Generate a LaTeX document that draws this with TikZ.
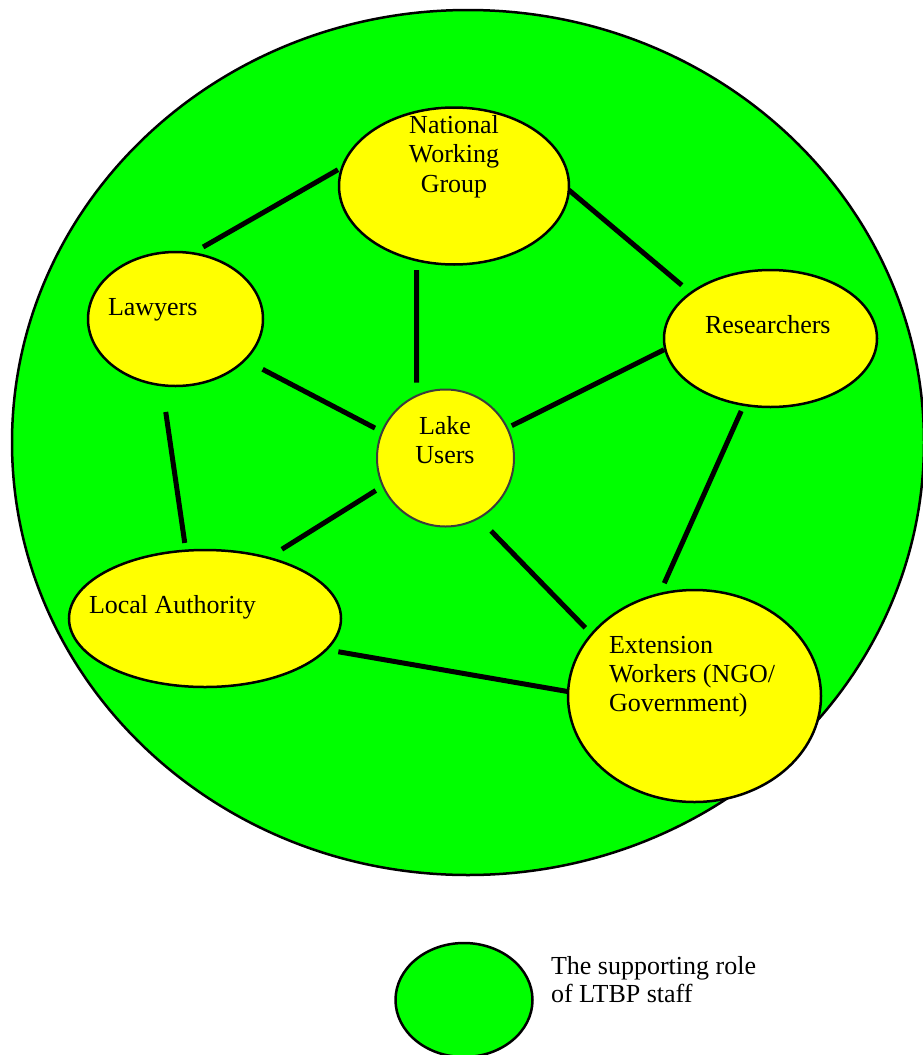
\documentclass[tikz,border=0pt]{standalone}
\usepackage{fontspec}
\setmainfont{Liberation Serif}
\usetikzlibrary{shapes.geometric,calc}
\definecolor{staffgreen}{RGB}{0,255,0}
\definecolor{actoryellow}{RGB}{255,255,0}
\definecolor{rimgrey}{RGB}{60,60,60}
\newcommand{\lines}[2]{\begin{tabular}[t]{@{}#1@{}}#2\end{tabular}}
\begin{document}
\begin{tikzpicture}[x=1pt,y=-1pt,
  actor/.style={ellipse, draw=black, line width=2.5pt, fill=actoryellow,
    inner sep=0pt, outer sep=0pt},
  staffarea/.style={ellipse, draw=black, line width=2.5pt, fill=staffgreen,
    inner sep=0pt, outer sep=0pt},
  link/.style={line width=5pt},
  lbl/.style={inner sep=0pt, outer sep=0pt, font=\fontsize{26}{29}\selectfont},
]
\useasboundingbox (0,0) rectangle (922,1055);

% supporting staff area behind the network
\node[staffarea, minimum width=912pt, minimum height=865pt] (staff) at (468,442.5) {};

% actors
\node[actor, minimum width=230pt, minimum height=157pt] (nwg)  at (454,186)    {};
\node[actor, minimum width=175pt, minimum height=134pt] (law)  at (175.5,319)  {};
\node[actor, minimum width=213pt, minimum height=137pt] (res)  at (770.5,338.5){};
\node[actor, draw=rimgrey, line width=2pt, minimum width=137pt, minimum height=137pt] (lake) at (445.5,458) {};
\node[actor, minimum width=272pt, minimum height=137pt] (loc)  at (205,618.5)  {};
\node[actor, minimum width=253pt, minimum height=212pt] (ext)  at (694.5,696)  {};

% labels
\node[lbl, font=\fontsize{26}{29.5}\selectfont, anchor=base] (nwgtxt) at (454,133) {\lines{c}{National\\Working\\Group}};
\node[lbl, anchor=base west] (lawtxt) at (108,315) {Lawyers};
\node[lbl, anchor=base west] (restxt) at (705,333) {Researchers};
\node[lbl, anchor=base] (laketxt) at (445,434) {\lines{c}{Lake\\Users}};
\node[lbl, anchor=base west] (loctxt) at (89,613) {Local Authority};
\node[lbl, anchor=base west] (exttxt) at (609,653) {\lines{l}{Extension\\Workers (NGO/\\Government)}};

% connections between actors
\draw[link] ($(nwg.center)!1.03!(nwg.172)$)   -- ($(law.center)!1.12!(law.69)$);
\draw[link] ($(nwg.center)!1.0!(nwg.-2)$)     -- ($(res.center)!1.14!(res.149)$);
\draw[link] ($(nwg.center)!1.12!(nwg.246)$)   -- ($(lake.center)!1.177!(lake.111)$);
\draw[link] ($(law.center)!1.247!(law.-30)$)  -- ($(lake.center)!1.118!(lake.157)$);
\draw[link] ($(res.center)!1.013!(res.186)$)  -- ($(lake.center)!1.077!(lake.26)$);
\draw[link] ($(law.center)!1.392!(law.264)$)  -- ($(loc.center)!1.113!(loc.105)$);
\draw[link] ($(res.center)!1.094!(res.248)$)  -- ($(ext.center)!1.091!(ext.105)$);
\draw[link] ($(lake.center)!1.123!(lake.205)$)-- ($(loc.center)!1.158!(loc.42)$);
\draw[link] ($(lake.center)!1.256!(lake.-58)$)-- ($(ext.center)!1.077!(ext.148)$);
\draw[link] ($(loc.center)!1.094!(loc.-14)$)  -- ($(ext.center)!1.0!(ext.178)$);

% legend
\node[staffarea, minimum width=137pt, minimum height=114pt] (key) at (464,1000) {};
\node[lbl, font=\fontsize{26}{28}\selectfont, anchor=base west] (keytxt) at (551,974) {\lines{l}{The supporting role\\of LTBP staff}};
\end{tikzpicture}
\end{document}
